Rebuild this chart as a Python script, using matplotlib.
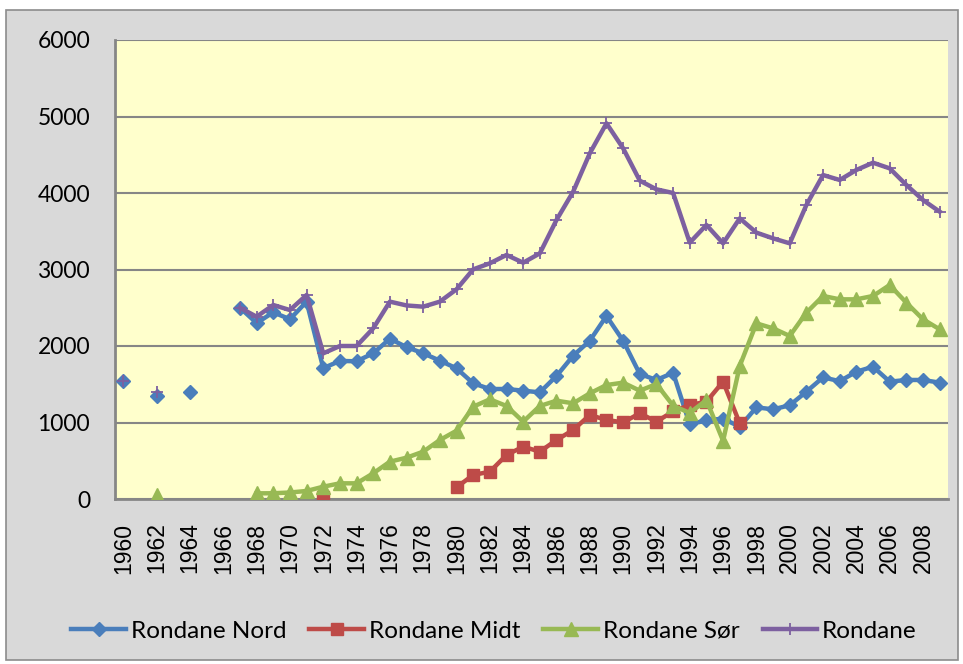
import numpy as np
import matplotlib
matplotlib.use("Agg")
import matplotlib.pyplot as plt
from matplotlib.patches import Rectangle

nan = np.nan
years = list(range(1960, 2010))
tick_labels = [str(y) for y in range(1960, 2009, 2)]

# values by year 1960..2009 (NaN = no data)
nord = [1540, nan, 1350, nan, 1400, nan, nan, 2500, 2300, 2440, 2350, 2580,
        1710, 1805, 1800, 1905, 2095, 1985, 1905, 1808, 1708, 1512, 1438, 1438,
        1416, 1394, 1608, 1873, 2069, 2392, 2069, 1634, 1556, 1650, 975, 1030,
        1050, 945, 1198, 1172, 1225, 1403, 1590, 1540, 1664, 1729, 1534, 1556,
        1556, 1521]
midt = [nan, nan, nan, nan, nan, nan, nan, nan, nan, nan, nan, nan,
        25, nan, nan, nan, nan, nan, nan, nan, 153, 314, 357, 575,
        684, 619, 771, 902, 1098, 1033, 1002, 1120, 1011, 1145, 1229, 1272,
        1534, 989, nan, nan, nan, nan, nan, nan, nan, nan, nan, nan,
        nan, nan]
sor = [nan, nan, 50, nan, nan, nan, nan, nan, 74, 75, 85, 105,
       161, 205, 205, 336, 488, 540, 619, 771, 893, 1207, 1303, 1216,
       1011, 1216, 1285, 1251, 1381, 1490, 1521, 1416, 1503, 1220, 1125, 1294,
       760, 1740, 2296, 2231, 2131, 2436, 2654, 2610, 2610, 2654, 2797, 2566,
       2349, 2218]
rondane = [1540, nan, 1400, nan, nan, nan, nan, 2500, 2383, 2536, 2470, 2667,
           1904, 2000, 2000, 2231, 2580, 2530, 2514, 2580, 2741, 3002, 3081, 3190,
           3089, 3211, 3647, 4017, 4519, 4911, 4584, 4161, 4048, 4000, 3351, 3582,
           3342, 3669, 3482, 3407, 3342, 3843, 4235, 4170, 4301, 4396, 4322, 4105,
           3908, 3756]

series_names = ["Rondane Nord", "Rondane Midt", "Rondane Sør", "Rondane"]
colors = ["#4A7EBB", "#BE4B48", "#98B954", "#7D60A0"]

W, H = 963, 664
fig = plt.figure(figsize=(W / 100, H / 100), dpi=100, facecolor="white")
fig.patches.append(Rectangle((6 / W, 4 / H), 952 / W, 650 / H,
                             transform=fig.transFigure, facecolor="#D9D9D9",
                             edgecolor="#8C8C8C", linewidth=1.2, zorder=-10))

ax = fig.add_axes([115 / W, 1 - 499 / H, (948 - 115) / W, (499 - 40) / H])
ax.set_facecolor("#FFFFCC")

x = np.arange(len(years))
ax.plot(x, nord, color=colors[0], lw=3.2, marker="D", ms=7.5, label=series_names[0], zorder=3)
ax.plot(x, midt, color=colors[1], lw=3.2, marker="s", ms=8, label=series_names[1], zorder=4)
ax.plot(x, sor, color=colors[2], lw=3.2, marker="^", ms=9.5, label=series_names[2], zorder=5)
ax.plot(x, rondane, color=colors[3], lw=3.2, marker="+", ms=9, mew=1.3,
        label=series_names[3], zorder=6)

ax.set_xlim(-0.5, len(years) - 0.5)
ax.set_ylim(0, 6000)
ax.set_yticks(range(0, 6001, 1000))
ax.set_xticks(np.arange(0, len(years), 2))
ax.set_xticklabels(tick_labels, rotation=90, fontsize=16.5, family="Liberation Sans")
for lab in ax.get_yticklabels():
    lab.set_fontfamily("Lato")
    lab.set_fontsize(16.5)
ax.tick_params(axis="both", length=0)
ax.tick_params(axis="y", pad=18)
ax.tick_params(axis="x", pad=17)
ax.grid(axis="y", color="#868686", lw=1.5)
ax.set_axisbelow(True)
for s in ["top", "right"]:
    ax.spines[s].set_visible(False)
for s in ["left", "bottom"]:
    ax.spines[s].set_color("#868686")
    ax.spines[s].set_linewidth(2)

leg = fig.legend(loc="center", bbox_to_anchor=(0.513, 1 - 631 / H), ncol=4,
                 frameon=False, prop={"family": "Lato", "size": 17.5},
                 handlelength=2.25, handletextpad=0.2, columnspacing=0.95)
plt.savefig("out.png", dpi=100, facecolor=fig.get_facecolor())
